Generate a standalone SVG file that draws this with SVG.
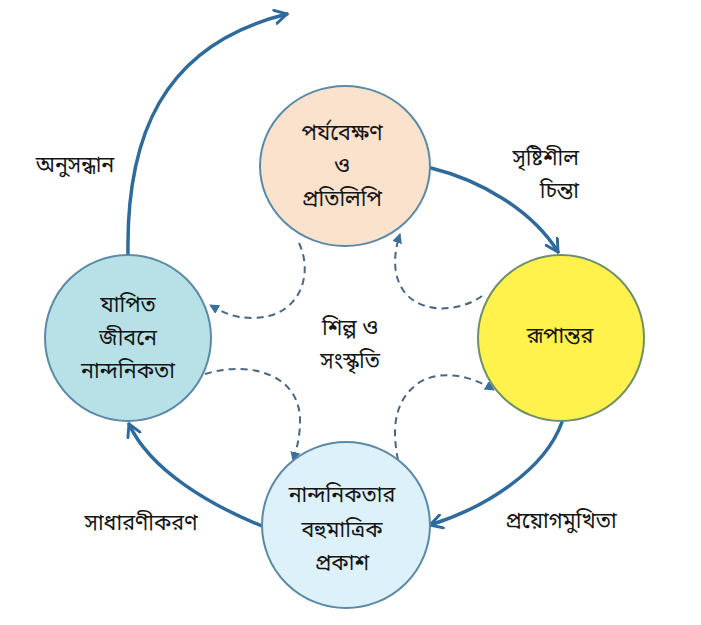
<svg xmlns="http://www.w3.org/2000/svg" width="701" height="625" viewBox="0 0 701 625">
<defs>
<style>
.t{font-family:"Noto Sans Bengali","Noto Sans","Liberation Sans",sans-serif;font-size:21.5px;fill:#151515;text-anchor:middle}
.node{stroke:#5b8aa6;stroke-width:2}
.main{fill:none;stroke:#2f6a9c;stroke-width:3.5;stroke-linecap:round}
.dash{fill:none;stroke:#4a6680;stroke-width:2;stroke-dasharray:7 5}
</style>
<marker id="open" viewBox="0 0 12 12" refX="10" refY="6" markerWidth="16" markerHeight="16" markerUnits="userSpaceOnUse" orient="auto">
<path d="M1,1 L10,6 L1,11" fill="none" stroke="#2f6a9c" stroke-width="2.2" stroke-linecap="round" stroke-linejoin="round"/>
</marker>
<marker id="tri" viewBox="0 0 10 10" refX="9" refY="5" markerWidth="10" markerHeight="10" markerUnits="userSpaceOnUse" orient="auto">
<path d="M0,0 L10,5 L0,10 Z" fill="#3b6f9c"/>
</marker>
</defs>
<rect width="701" height="625" fill="#ffffff"/>
<g id="connectors">
<path class="main" d="M128,255 C126,140 160,45 287,14" marker-end="url(#open)"/>
<path class="main" d="M431,168 C480,180 532,210 558,252" marker-end="url(#open)"/>
<path class="main" d="M562,422 C545,470 485,508 430,525" marker-end="url(#open)"/>
<path class="main" d="M262,526 C210,505 150,470 129,424" marker-end="url(#open)"/>
<path class="dash" d="M299,243 C314,275 300,318 252,318 C234,318 222,312 210,305" marker-end="url(#tri)"/>
<path class="dash" d="M482,296 C460,312 420,315 403,290 C393,275 393,255 400,234" marker-end="url(#tri)"/>
<path class="dash" d="M205,374 C250,360 300,375 300,420 C300,440 296,450 293,461" marker-end="url(#tri)"/>
<path class="dash" d="M398,460 C392,430 393,400 420,382 C445,368 475,378 494,390" marker-end="url(#tri)"/>
</g>
<g id="node-top">
<ellipse class="node" cx="345" cy="166" rx="85" ry="80" fill="#fbe2cc"/>
<text class="t" x="342" y="140">পর্যবেক্ষণ</text>
<text class="t" x="342" y="173">ও</text>
<text class="t" x="342" y="206">প্রতিলিপি</text>
</g>
<g id="node-left">
<circle class="node" cx="128" cy="338" r="83" fill="#b7e0e7"/>
<text class="t" x="128" y="312">যাপিত</text>
<text class="t" x="128" y="345">জীবনে</text>
<text class="t" x="128" y="378">নান্দনিকতা</text>
</g>
<g id="node-right">
<circle cx="561" cy="338" r="83" fill="#fff24d" stroke="#6f8f6a" stroke-width="2"/>
<text class="t" x="560" y="343">রূপান্তর</text>
</g>
<g id="node-bottom">
<ellipse class="node" cx="346" cy="525" rx="84" ry="83" fill="#ddf1fa"/>
<text class="t" x="342" y="502">নান্দনিকতার</text>
<text class="t" x="342" y="537">বহুমাত্রিক</text>
<text class="t" x="342" y="570">প্রকাশ</text>
</g>
<g id="center">
<text class="t" x="350" y="335">শিল্প ও</text>
<text class="t" x="350" y="368">সংস্কৃতি</text>
</g>
<g id="labels">
<text class="t" x="75" y="172">অনুসন্ধান</text>
<text class="t" x="579" y="165" style="text-anchor:end">সৃষ্টিশীল</text>
<text class="t" x="579" y="198" style="text-anchor:end">চিন্তা</text>
<text class="t" x="141" y="530">সাধারণীকরণ</text>
<text class="t" x="561" y="528">প্রয়োগমুখিতা</text>
</g>
</svg>
